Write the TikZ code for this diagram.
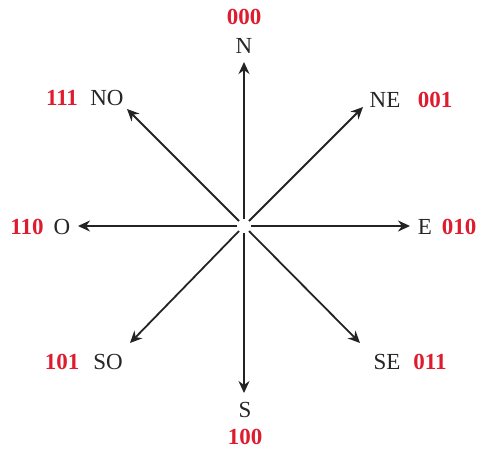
\documentclass[tikz,border=0pt]{standalone}
\usepackage{fontspec}
\setmainfont{Liberation Serif}
\usetikzlibrary{arrows.meta}
\definecolor{codered}{RGB}{222,28,48}
\definecolor{arrowgray}{RGB}{35,35,35}
\begin{document}
\begin{tikzpicture}[x=1pt,y=-1pt,
  dir/.style={font=\fontsize{23}{27}\selectfont, text=black!85, inner sep=0pt},
  code/.style={font=\fontsize{23}{27}\selectfont\bfseries, text=codered, inner sep=0pt},
  ray/.style={draw=arrowgray, line width=1.8pt, -{Stealth[length=12pt,width=11pt]}}]
\useasboundingbox (0,0) rectangle (481,451);
\coordinate (c) at (244,226);
% start points (small gap at centre)
\coordinate (sN) at (244,219);
\coordinate (sS) at (244,233);
\coordinate (sE) at (251,226);
\coordinate (sW) at (237,226);
\coordinate (sNE) at (249,221);
\coordinate (sNW) at (239,221);
\coordinate (sSW) at (239,231);
\coordinate (sSE) at (249,231);
% tips
\coordinate (tN) at (244,62);
\coordinate (tS) at (244,393);
\coordinate (tE) at (410,226);
\coordinate (tW) at (78,226);
\coordinate (tNE) at (363,107);
\coordinate (tNW) at (127,109);
\coordinate (tSW) at (130,343);
\coordinate (tSE) at (360,343);
\draw[ray] (sN) -- (tN);
\draw[ray] (sS) -- (tS);
\draw[ray] (sE) -- (tE);
\draw[ray] (sW) -- (tW);
\draw[ray] (sNE) -- (tNE);
\draw[ray] (sNW) -- (tNW);
\draw[ray] (sSW) -- (tSW);
\draw[ray] (sSE) -- (tSE);
% labels
\node[dir] (lN) at (244,46) {N};
\node[code] (cN) at (244,17) {000};
\node[dir] (lS) at (245,410) {S};
\node[code] (cS) at (245,437) {100};
\node[dir] (lE) at (425,227) {E};
\node[code] (cE) at (459,227) {010};
\node[dir] (lW) at (62,227) {O};
\node[code] (cW) at (27,227) {110};
\node[dir] (lNE) at (385,100) {NE};
\node[code] (cNE) at (435,100) {001};
\node[dir] (lNW) at (107,98) {NO};
\node[code] (cNW) at (62,98) {111};
\node[dir] (lSW) at (108,362) {SO};
\node[code] (cSW) at (62,362) {101};
\node[dir] (lSE) at (387,362) {SE};
\node[code] (cSE) at (430,362) {011};
\end{tikzpicture}
\end{document}
